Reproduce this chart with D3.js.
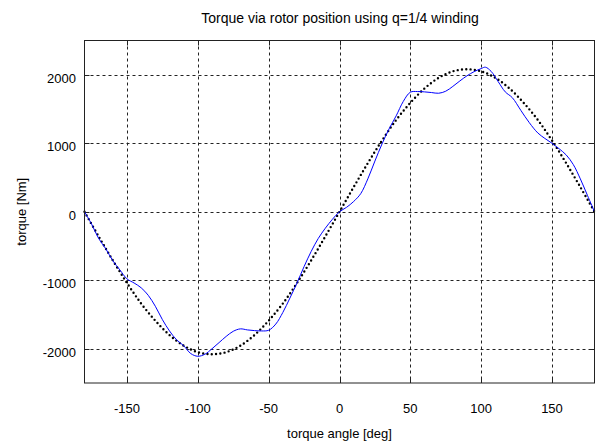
<!DOCTYPE html>
<html>
<head>
<meta charset="utf-8">
<script src="https://cdn.jsdelivr.net/npm/d3@7"></script>
<style>
  body { margin: 0; background: #fff; }
  text { font-family: "Liberation Sans", Arial, sans-serif; fill: #000; }
</style>
</head>
<body>
<div id="chart"></div>
<script>
// dados
const xTicks = [-150, -100, -50, 0, 50, 100, 150];
const yTicks = [-2000, -1000, 0, 1000, 2000];

// curva medida (linha azul): angulo [deg], torque [Nm]
const measAngle = [-180, -175, -170, -165, -160, -155, -150, -145, -140, -135, -130, -125, -120, -115, -110, -105, -100, -95, -90, -85, -80, -75, -70, -65, -60, -55, -50, -45, -40, -35, -30, -25, -20, -15, -10, -5, 0, 5, 10, 15, 20, 25, 30, 35, 40, 45, 50, 55, 60, 65, 70, 75, 80, 85, 90, 95, 100, 103, 107, 112, 117, 122, 128, 134, 140, 145, 150, 155, 160, 165, 170, 175, 180];
const measTorque = [0, -180, -390, -540, -715, -850, -980, -1040, -1110, -1220, -1380, -1575, -1740, -1870, -1955, -2070, -2110, -2080, -2000, -1910, -1820, -1745, -1710, -1725, -1735, -1740, -1730, -1640, -1470, -1260, -1040, -800, -580, -390, -240, -110, 0, 65, 150, 265, 480, 740, 990, 1210, 1400, 1610, 1745, 1755, 1750, 1740, 1730, 1760, 1830, 1910, 1985, 2045, 2090, 2110, 2050, 1900, 1750, 1665, 1480, 1300, 1150, 1070, 1000, 920, 830, 690, 480, 240, 0];

// curva pontilhada (referencia)
const refAngle = [-180, -170, -160, -150, -140, -130, -120, -110, -100, -90, -80, -70, -60, -50, -40, -30, -20, -10, 0, 10, 20, 30, 40, 50, 60, 70, 80, 90, 100, 110, 120, 130, 140, 150, 160, 170, 180];
const refTorque = [0, -360, -710, -1040, -1340, -1590, -1800, -1955, -2050, -2080, -2050, -1955, -1800, -1590, -1340, -1040, -710, -360, 0, 360, 710, 1040, 1340, 1590, 1800, 1955, 2050, 2080, 2050, 1955, 1800, 1590, 1340, 1040, 710, 360, 0];

const W = 596, H = 442;
const margin = {top: 40.5, right: 1.5, bottom: 59, left: 84.5};

const svg = d3.select("#chart").append("svg")
    .attr("width", W).attr("height", H);

const x = d3.scaleLinear().domain([-180, 180]).range([margin.left, W - margin.right]);
const y = d3.scaleLinear().domain([-2500, 2500]).range([H - margin.bottom, margin.top]);

const x0 = x.range()[0], x1 = x.range()[1], y0 = y.range()[1], y1 = y.range()[0];

// grade tracejada
svg.append("g").selectAll("line").data(xTicks).join("line")
    .attr("x1", d => Math.round(x(d)) + 0.5).attr("x2", d => Math.round(x(d)) + 0.5)
    .attr("y1", y0).attr("y2", y1)
    .attr("stroke", "#222").attr("stroke-dasharray", "3,3");
svg.append("g").selectAll("line").data(yTicks).join("line")
    .attr("y1", d => Math.round(y(d)) + 0.5).attr("y2", d => Math.round(y(d)) + 0.5)
    .attr("x1", x0).attr("x2", x1)
    .attr("stroke", "#222").attr("stroke-dasharray", "3,3");

// ticks para dentro nos quatro lados
const tk = 5;
const ticks = svg.append("g").attr("stroke", "#222");
xTicks.forEach(d => {
    const px = Math.round(x(d)) + 0.5;
    ticks.append("line").attr("x1", px).attr("x2", px).attr("y1", y1).attr("y2", y1 - tk);
    ticks.append("line").attr("x1", px).attr("x2", px).attr("y1", y0).attr("y2", y0 + tk);
});
yTicks.forEach(d => {
    const py = Math.round(y(d)) + 0.5;
    ticks.append("line").attr("y1", py).attr("y2", py).attr("x1", x0).attr("x2", x0 + tk);
    ticks.append("line").attr("y1", py).attr("y2", py).attr("x1", x1).attr("x2", x1 - tk);
});

// linhas
const refData = refAngle.map((a, i) => [a, refTorque[i]]);
const measData = measAngle.map((a, i) => [a, measTorque[i]]);
const line = d3.line().x(d => x(d[0])).y(d => y(d[1])).curve(d3.curveCatmullRom);

svg.append("path").datum(refData)
    .attr("d", line)
    .attr("fill", "none").attr("stroke", "#000")
    .attr("stroke-width", 2.4).attr("stroke-linecap", "round")
    .attr("stroke-dasharray", "0,4.3");

svg.append("path").datum(measData)
    .attr("d", line)
    .attr("fill", "none").attr("stroke", "#0000ff").attr("stroke-width", 1);

// moldura
svg.append("rect")
    .attr("x", x0).attr("y", y0).attr("width", x1 - x0).attr("height", y1 - y0)
    .attr("fill", "none").attr("stroke", "#222").attr("stroke-width", 1);

// rotulos dos eixos
svg.append("g").selectAll("text").data(xTicks).join("text")
    .attr("x", d => x(d)).attr("y", 413)
    .attr("text-anchor", "middle").style("font-size", "13px")
    .text(d => d);
svg.append("g").selectAll("text").data(yTicks).join("text")
    .attr("x", 76).attr("y", d => y(d) + 8)
    .attr("text-anchor", "end").style("font-size", "13px")
    .text(d => d);

svg.append("text")
    .attr("x", 340).attr("y", 22.5)
    .attr("text-anchor", "middle").style("font-size", "14px")
    .text("Torque via rotor position using q=1/4 winding");

svg.append("text")
    .attr("x", (x0 + x1) / 2).attr("y", 437.5)
    .attr("text-anchor", "middle").style("font-size", "13px")
    .text("torque angle [deg]");

svg.append("text")
    .attr("transform", `translate(26,${(y0 + y1) / 2}) rotate(-90)`)
    .attr("text-anchor", "middle").style("font-size", "13px")
    .text("torque [Nm]");
</script>
</body>
</html>
